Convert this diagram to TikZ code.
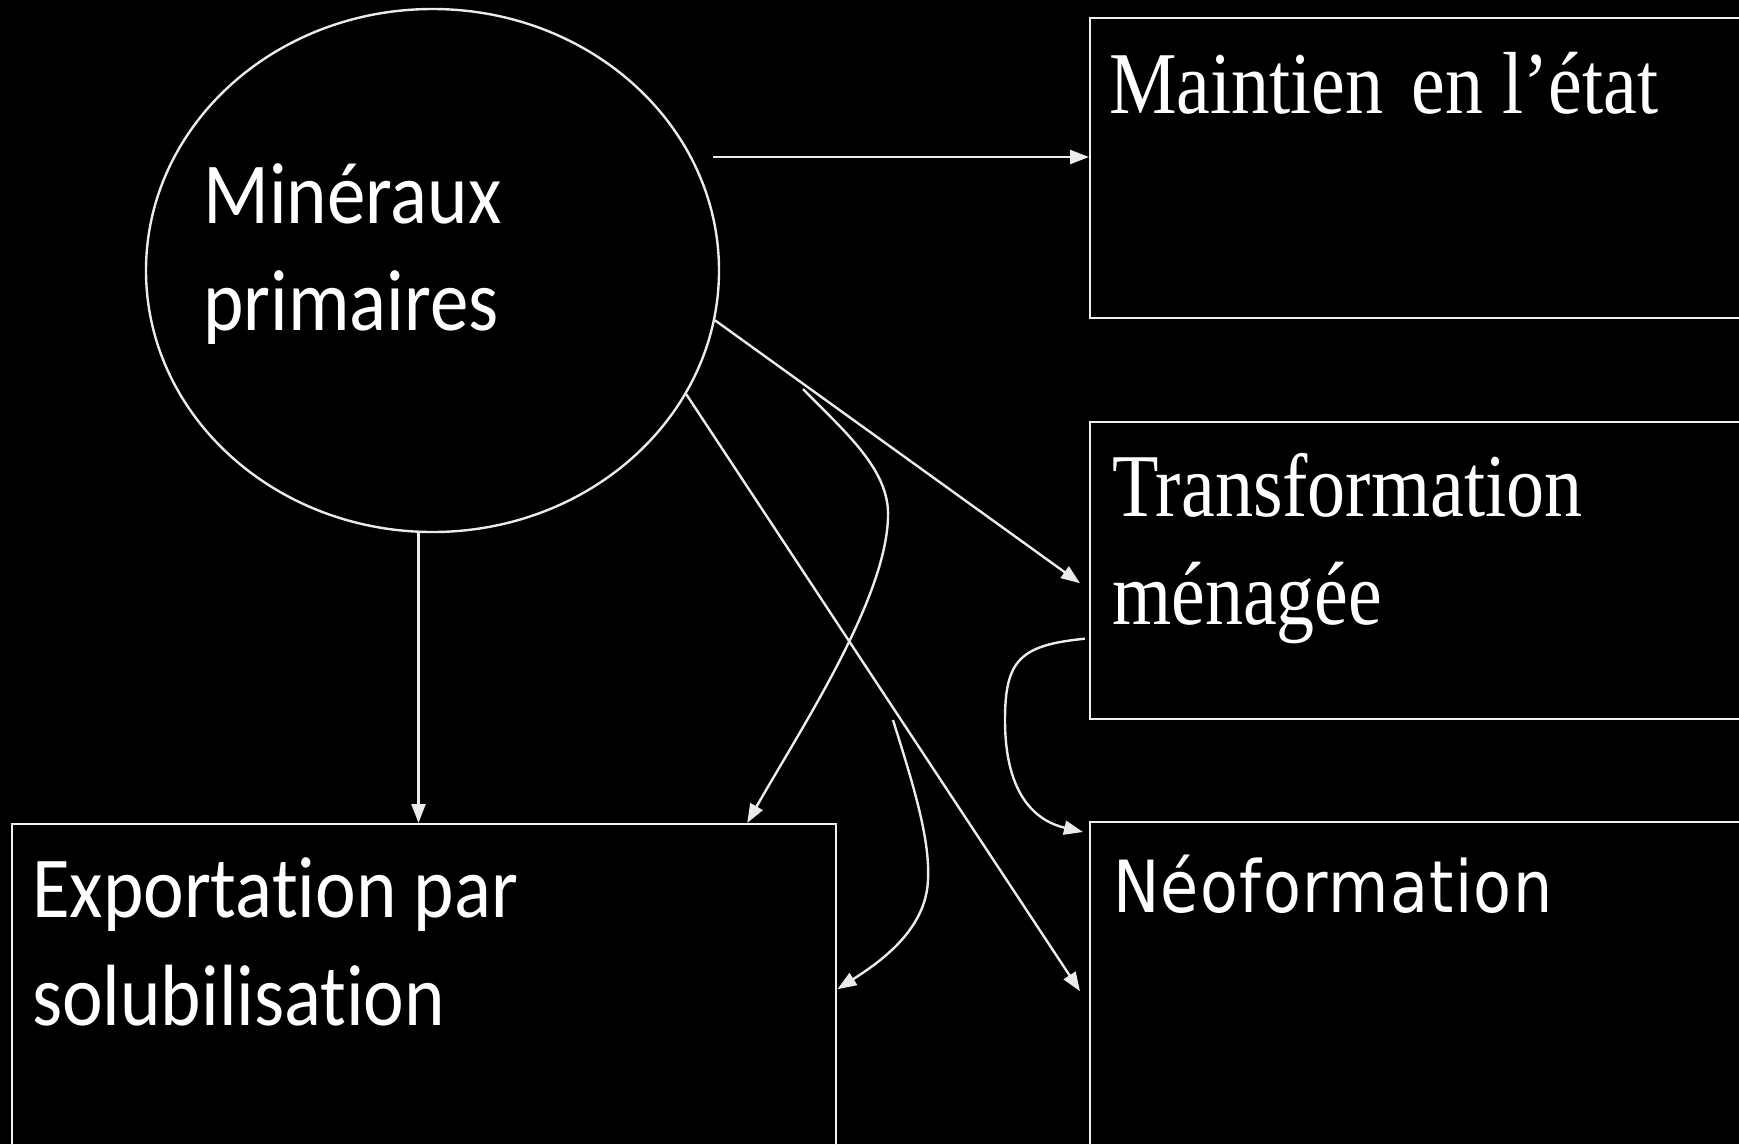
\documentclass[tikz,border=0pt]{standalone}
\usepackage{fontspec}
\usepackage{graphicx}
\usetikzlibrary{shapes.geometric,arrows.meta}
\newfontfamily\calibface[Ligatures=NoCommon]{Carlito}
\newfontfamily\romanface{Liberation Serif}
\newfontfamily\wideface[LetterSpace=2.3]{DejaVu Sans}
% vertically stretched text
\newcommand\vstretch[2]{\scalebox{1}[#1]{#2}}
\begin{document}
\begin{tikzpicture}[x=1pt,y=-1pt,
  line/.style={draw=white!92!black, line width=2.4pt},
  arr/.style={line, -{Triangle[length=19pt,width=14pt]}},
  box/.style={draw=white!94!black, line width=2.4pt, rectangle, inner sep=0pt, anchor=north west},
  lbl/.style={text=white, inner sep=0pt, anchor=base west},
  sanslbl/.style={lbl, font=\calibface\fontsize{77}{92}\selectfont},
  seriflbl/.style={lbl, font=\romanface\fontsize{76}{92}\selectfont},
  widelbl/.style={lbl, font=\wideface\fontsize{62}{74}\selectfont},
]
\fill[black] (0,0) rectangle (1739,1144);
\useasboundingbox (0,0) rectangle (1739,1144);
\clip (0,0) rectangle (1739,1144);

% source ellipse
\node[ellipse, draw=white!92!black, line width=2.4pt, minimum width=573pt,
      minimum height=523pt, inner sep=0pt] (ell) at (432.5,270.5) {};
\node[sanslbl] (min1) at (203,223) {\vstretch{1.13}{Minéraux}};
\node[sanslbl] (min2) at (203,330) {\vstretch{1.13}{primaires}};

% target boxes
\node[box, minimum width=720pt, minimum height=300pt] (maint) at (1089,17) {};
\node[box, minimum width=720pt, minimum height=297pt] (tran) at (1089,421) {};
\node[box, minimum width=720pt, minimum height=400pt] (neo) at (1089,821) {};
\node[box, minimum width=824pt, minimum height=400pt] (expo) at (11,823) {};

\node[seriflbl] (maintxt) at (1109,113) {\vstretch{1.16}{Maintien\hspace{0.12em} en l’état}};
\node[seriflbl] (tran1) at (1112,516) {\vstretch{1.18}{Transformation}};
\node[seriflbl] (tran2) at (1112,624) {\vstretch{1.18}{ménagée}};
\node[widelbl] (neotxt) at (1113,912) {\vstretch{1.16}{Néoformation}};
\node[sanslbl] (expo1) at (32,917) {\vstretch{1.13}{Exportation par}};
\node[sanslbl] (expo2) at (32,1025) {\vstretch{1.13}{solubilisation}};

% connectors
\coordinate (hstart) at (713,157);
\coordinate (c4) at (803,389);
\coordinate (c5) at (893,720);

\draw[arr] (hstart) -- (hstart -| maint.west);
\draw[arr] (ell.-10) -- ([xshift=-9pt,yshift=-12.5pt]tran.west);
\draw[arr] (ell.-26) -- ([xshift=-9pt,yshift=31pt]neo.west);
\draw[arr] ([xshift=-14pt]ell.south) -- ([xshift=-14pt]ell.south |- expo.north);
\draw[arr] (c4) .. controls (845,432) and (890,470) .. (888,517)
                .. controls (886,600) and (800,730) .. ([xshift=323pt]expo.north);
\draw[arr] (c5) .. controls (915,790) and (930,840) .. (928,880)
                .. controls (926,930) and (880,962) .. ([yshift=35pt]expo.east);
\draw[arr] ([xshift=-4pt,yshift=-68pt]tran.west) .. controls (1020,645) and (1005,660) .. (1005,720)
                .. controls (1005,800) and (1040,822) .. ([xshift=-6pt,yshift=-11pt]neo.north west);
\end{tikzpicture}
\end{document}
